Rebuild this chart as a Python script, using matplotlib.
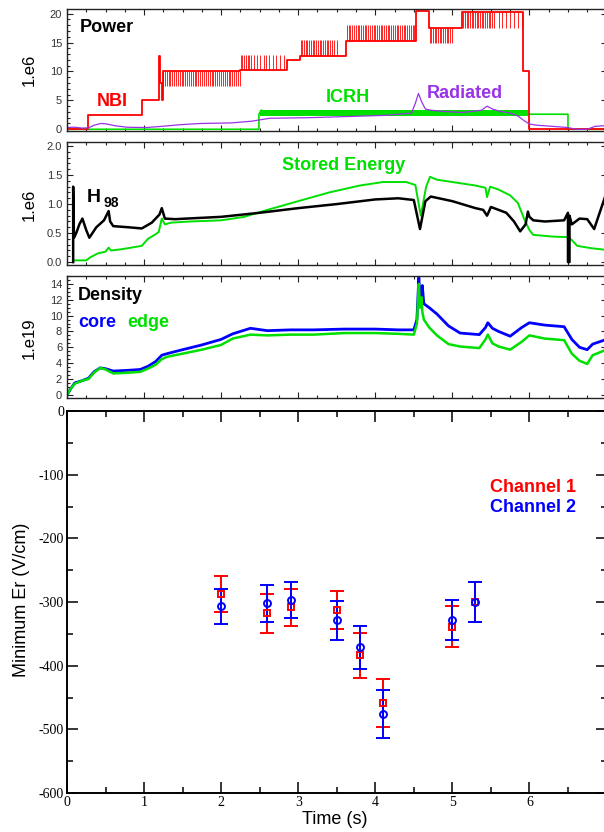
import matplotlib
matplotlib.use("Agg")
import matplotlib.pyplot as plt
from matplotlib.ticker import MultipleLocator

plt.rcParams['axes.unicode_minus'] = False
plt.rcParams['font.family'] = ['Liberation Sans', 'DejaVu Sans']

# ---------------- data ----------------
# NBI power (1e6 W): base step levels
nbi_t = [0.0, 0.277, 0.277, 0.97, 0.97, 1.20, 1.20, 1.205, 1.205, 1.23, 1.23, 1.245,
         1.245, 2.25, 2.25, 2.85, 2.85, 3.02, 3.02, 3.62, 3.62, 4.53, 4.53, 4.70,
         4.70, 5.00, 5.00, 5.13, 5.13, 5.92, 5.92, 5.99, 5.99, 7.0]
nbi_v = [0.0, 0.0, 2.5, 2.5, 5.0, 5.0, 12.7, 12.7, 8.0, 8.0, 5.0, 5.0,
         10.0, 10.0, 10.3, 10.3, 12.0, 12.0, 12.7, 12.7, 15.2, 15.2, 20.5, 20.5,
         17.5, 17.5, 17.6, 17.6, 20.3, 20.3, 10.0, 10.0, 0.0, 0.0]
# NBI modulation spikes (times), each segment with base and extreme level
spk_a_t = [1.250, 1.271, 1.296, 1.318, 1.341, 1.366, 1.392, 1.414, 1.438, 1.463, 1.488,
           1.510, 1.534, 1.560, 1.583, 1.607, 1.633, 1.656, 1.680, 1.705, 1.730, 1.754,
           1.779, 1.803, 1.827, 1.852, 1.876, 1.900, 1.925, 1.950, 1.974, 1.998, 2.023,
           2.048, 2.072, 2.096, 2.121, 2.146, 2.170, 2.195, 2.220, 2.244]
spk_b_t = [2.255, 2.276, 2.297, 2.320, 2.343, 2.366, 2.390, 2.42, 2.46, 2.51, 2.55, 2.58,
           2.62, 2.67, 2.715, 2.76, 2.81]
spk_d_t = [3.030, 3.052, 3.075, 3.097, 3.120, 3.143, 3.165, 3.188, 3.211, 3.233, 3.256,
           3.279, 3.302, 3.324, 3.347, 3.370, 3.392, 3.415, 3.438, 3.47, 3.50]
spk_e_t = [3.632, 3.655, 3.678, 3.701, 3.724, 3.747, 3.770, 3.793, 3.816, 3.839, 3.862,
           3.885, 3.908, 3.931, 3.954, 3.977, 4.000, 4.023, 4.046, 4.069, 4.092, 4.115,
           4.138, 4.161, 4.184, 4.207, 4.230, 4.253, 4.276, 4.299, 4.322, 4.345, 4.368,
           4.391, 4.414, 4.437, 4.460, 4.483, 4.506]
spk_g_t = [4.705, 4.727, 4.749, 4.771, 4.793, 4.815, 4.837, 4.859, 4.881, 4.903, 4.925,
           4.947, 4.969, 4.991]
spk_i_t = [5.140, 5.162, 5.184, 5.206, 5.228, 5.250, 5.272, 5.294, 5.316, 5.338, 5.360,
           5.382, 5.404, 5.426, 5.448, 5.470, 5.492, 5.514, 5.536, 5.60, 5.65, 5.70, 5.75,
           5.80, 5.85, 5.90]
spk_levels = [(spk_a_t, 10.0, 7.4), (spk_b_t, 10.3, 12.8), (spk_d_t, 12.7, 15.5),
              (spk_e_t, 15.2, 18.0), (spk_g_t, 17.5, 15.0), (spk_i_t, 20.3, 17.5)]

# ICRH power
icrh_t = [0.0, 2.49, 2.49, 2.52, 2.6, 3.0, 3.5, 4.0, 4.5, 5.0, 5.5, 5.9, 5.98, 5.98, 6.5, 6.5, 7.0]
icrh_v = [0.0, 0.0, 2.6, 3.3, 2.9, 2.8, 2.8, 2.8, 2.8, 2.8, 2.8, 2.8, 2.8, 2.6, 2.6, 0.0, 0.0]
icrh_band_t = [2.5, 5.98]
icrh_band_lo = [2.35, 2.35]
icrh_band_hi = [3.25, 3.25]

# Radiated power
rad_t = [0.0, 0.1, 0.2, 0.28, 0.35, 0.44, 0.5, 0.63, 0.78, 1.03, 1.23, 1.48, 1.73, 2.13,
         2.4, 2.49, 2.63, 3.13, 3.63, 4.12, 4.47, 4.52, 4.56, 4.60, 4.65, 4.72, 4.87,
         5.13, 5.38, 5.45, 5.52, 5.62, 5.75, 5.85, 5.93, 6.0, 6.1, 6.25, 6.5, 6.6,
         6.75, 6.85, 6.95, 7.0]
rad_v = [0.3, 0.35, 0.2, 0.25, 0.7, 1.0, 0.95, 0.6, 0.35, 0.3, 0.5, 0.8, 1.0, 1.1,
         1.4, 1.6, 1.9, 2.0, 2.2, 2.4, 2.8, 4.5, 6.2, 4.8, 3.5, 3.3, 3.1,
         2.9, 3.3, 4.0, 3.5, 3.1, 2.8, 2.3, 1.5, 0.9, 0.7, 0.55, 0.3, 0.0,
         0.0, 0.5, 0.6, 0.6]

# Stored energy (1e6 J)
se_t = [0.08, 0.25, 0.3, 0.4, 0.5, 0.54, 0.57, 0.7, 0.97, 1.05, 1.15, 1.19, 1.23, 1.27,
        1.35, 1.6, 2.0, 2.3, 2.6, 3.0, 3.4, 3.8, 4.1, 4.4, 4.52, 4.59, 4.66, 4.71, 4.8,
        5.0, 5.3, 5.43, 5.45, 5.49, 5.6, 5.75, 5.85, 5.93, 6.0, 6.05, 6.3, 6.5, 6.55,
        6.62, 6.8, 7.0]
se_v = [0.03, 0.03, 0.08, 0.15, 0.18, 0.25, 0.2, 0.22, 0.28, 0.4, 0.48, 0.52, 0.75, 0.65,
        0.68, 0.7, 0.72, 0.78, 0.9, 1.05, 1.2, 1.32, 1.38, 1.38, 1.33, 0.8, 1.3, 1.47, 1.42,
        1.38, 1.32, 1.28, 1.12, 1.3, 1.25, 1.15, 1.02, 0.75, 0.55, 0.47, 0.44, 0.43, 0.38,
        0.28, 0.24, 0.21]

# H98 confinement factor
h_t = [0.08, 0.08, 0.09, 0.12, 0.16, 0.2, 0.25, 0.29, 0.38, 0.48, 0.54, 0.56, 0.6, 0.8,
       0.97, 1.1, 1.2, 1.23, 1.27, 1.4, 1.7, 2.0, 2.5, 3.0, 3.5, 4.0, 4.3, 4.5, 4.58,
       4.65, 4.72, 5.0, 5.3, 5.4, 5.45, 5.5, 5.7, 5.8, 5.88, 5.95, 5.98, 6.0, 6.05, 6.2,
       6.45, 6.5, 6.5, 6.52, 6.52, 6.55, 6.65, 6.75, 6.84, 7.0]
h_v = [0.0, 1.3, 0.42, 0.5, 0.65, 0.75, 0.55, 0.42, 0.6, 0.72, 0.88, 0.7, 0.62, 0.6,
       0.58, 0.68, 0.82, 0.93, 0.75, 0.74, 0.76, 0.78, 0.85, 0.93, 1.0, 1.08, 1.1, 1.07, 0.57,
       1.05, 1.13, 1.05, 0.93, 0.9, 0.8, 0.95, 0.85, 0.7, 0.53, 0.65, 0.87, 0.78, 0.72, 0.7,
       0.72, 0.85, 0.0, 0.0, 0.8, 0.65, 0.75, 0.74, 0.57, 1.2]

# Density (1e19 m^-3)
dens_t = [0, 0.05, 0.1, 0.2, 0.28, 0.35, 0.43, 0.5, 0.6, 0.8, 0.95, 1.05, 1.15, 1.23, 1.3,
          1.5, 1.75, 2.0, 2.15, 2.38, 2.6, 2.9, 3.2, 3.6, 4.0, 4.3, 4.5, 4.54, 4.565, 4.58,
          4.6, 4.61, 4.63, 4.7, 4.8, 4.95, 5.1, 5.35, 5.43, 5.46, 5.52, 5.6, 5.75, 5.9, 6.0,
          6.2, 6.45, 6.55, 6.65, 6.75, 6.82, 7.0]
core_v = [0, 0.8, 1.5, 1.8, 2.1, 2.9, 3.4, 3.3, 3.0, 3.1, 3.2, 3.6, 4.2, 5.0, 5.2,
          5.7, 6.3, 7.0, 7.7, 8.4, 8.1, 8.2, 8.2, 8.3, 8.3, 8.2, 8.2, 9.5, 14.8, 12.0,
          12.2, 13.8, 11.5, 11.0, 10.2, 8.7, 7.8, 7.6, 8.5, 9.1, 8.4, 8.0, 7.4, 8.5, 9.1,
          8.8, 8.6, 7.0, 6.0, 5.7, 6.4, 7.0]
edge_v = [0, 0.8, 1.4, 1.8, 2.0, 2.8, 3.4, 3.2, 2.7, 2.8, 2.9, 3.3, 3.8, 4.5, 4.8,
          5.2, 5.7, 6.3, 7.1, 7.6, 7.5, 7.6, 7.6, 7.8, 7.8, 7.7, 7.6, 9.0, 14.0, 11.0,
          12.3, 10.5, 9.5, 8.5, 7.5, 6.4, 6.1, 5.9, 7.0, 7.6, 6.5, 6.1, 5.7, 6.7, 7.5,
          7.1, 6.9, 5.2, 4.3, 3.9, 5.0, 5.7]

# Minimum Er (V/cm)
er_t = [2.0, 2.6, 2.9, 3.5, 3.8, 4.1, 5.0, 5.3]
ch1_er = [-287, -318, -308, -313, -384, -459, -339, -300]
ch1_err = [28, 30, 29, 30, 35, 38, 32, 31]
ch2_er = [-307, -302, -297, -329, -371, -476, -328, -300]
ch2_err = [28, 29, 28, 30, 34, 38, 31, 31]

time_ticks = [0, 1, 2, 3, 4, 5, 6, 7]
time_labels = ['0', '1', '2', '3', '4', '5', '6', '']

# ---------------- figure ----------------
W, H = 604, 832
fig = plt.figure(figsize=(W / 100, H / 100), dpi=100)

def box(top, bottom, left=67, right=606.5):
    return [left / W, 1 - bottom / H, (right - left) / W, (bottom - top) / H]

def fx(px):
    return px / W

def fy(py):
    return 1 - py / H

RED = '#ff0000'
GREEN = '#00e000'
BLUE = '#0000ff'
PURPLE = '#9933e6'

ax1 = fig.add_axes(box(9, 131))
ax2 = fig.add_axes(box(142, 265))
ax3 = fig.add_axes(box(276, 398))
ax4 = fig.add_axes(box(411, 793))

for ax in (ax1, ax2, ax3):
    ax.set_xlim(0, 7)
    ax.xaxis.set_major_locator(MultipleLocator(1))
    ax.xaxis.set_minor_locator(MultipleLocator(0.25))
    ax.tick_params(which='both', direction='in', top=True, right=True,
                   labelbottom=False, labelsize=8, labelcolor='#333333',
                   color='#222222', width=0.8)
    ax.tick_params(which='major', length=4)
    ax.tick_params(which='minor', length=2)
    for s in ax.spines.values():
        s.set_linewidth(1.0)
        s.set_color('#222222')

# ---- panel 1: power ----
ax1.set_ylim(-0.3, 20.8)
ax1.yaxis.set_major_locator(MultipleLocator(5))
ax1.yaxis.set_minor_locator(MultipleLocator(1))
ax1.fill_between(icrh_band_t, icrh_band_lo, icrh_band_hi, color=GREEN, lw=0)
ax1.plot(icrh_t, icrh_v, color=GREEN, lw=1.2)
for times, base, ext in spk_levels:
    ax1.vlines(times, base, ext, color=RED, lw=0.6)
ax1.plot(nbi_t, nbi_v, color=RED, lw=1.3)
ax1.plot(rad_t, rad_v, color=PURPLE, lw=0.9)

# ---- panel 2: stored energy, H98 ----
ax2.set_ylim(-0.05, 2.07)
ax2.yaxis.set_major_locator(MultipleLocator(0.5))
ax2.yaxis.set_minor_locator(MultipleLocator(0.1))
ax2.yaxis.set_major_formatter(plt.FormatStrFormatter('%.1f'))
ax2.plot(se_t, se_v, color=GREEN, lw=1.4)
ax2.plot(h_t, h_v, color='black', lw=1.8)

# ---- panel 3: density ----
ax3.set_ylim(-0.4, 15)
ax3.yaxis.set_major_locator(MultipleLocator(2))
ax3.yaxis.set_minor_locator(MultipleLocator(0.5))
ax3.plot(dens_t, core_v, color=BLUE, lw=2.0)
ax3.plot(dens_t, edge_v, color=GREEN, lw=1.8)

# ---- panel 4: Er ----
ax4.set_xlim(0, 7)
ax4.set_ylim(-600, 0)
ax4.set_xticks(time_ticks)
ax4.set_xticklabels(time_labels)
ax4.xaxis.set_minor_locator(MultipleLocator(0.5))
ax4.yaxis.set_major_locator(MultipleLocator(100))
ax4.yaxis.set_minor_locator(MultipleLocator(50))
ax4.tick_params(which='both', direction='in', top=True, right=True, width=1.1,
                labelsize=10, pad=2)
ax4.tick_params(which='major', length=8)
ax4.tick_params(which='minor', length=4.3)
for lab in ax4.get_xticklabels() + ax4.get_yticklabels():
    lab.set_family('Liberation Serif')
for s in ax4.spines.values():
    s.set_linewidth(1.4)

ax4.errorbar(er_t, ch1_er, yerr=ch1_err, fmt='s', ms=4.5, mfc='none', mec=RED, mew=1.4,
             ecolor=RED, elinewidth=1.4, capsize=4.8, capthick=1.4)
ax4.errorbar(er_t, ch2_er, yerr=ch2_err, fmt='o', ms=5, mfc='none', mec=BLUE, mew=1.4,
             ecolor=BLUE, elinewidth=1.4, capsize=4.8, capthick=1.4)

# ---- texts ----
fig.text(fx(29), fy(70), '1.e6', rotation=90, ha='center', va='center', fontsize=12)
fig.text(fx(29), fy(205), '1.e6', rotation=90, ha='center', va='center', fontsize=12)
fig.text(fx(29), fy(338), '1.e19', rotation=90, ha='center', va='center', fontsize=12)
fig.text(fx(22), fy(600), 'Minimum Er (V/cm)', rotation=90, ha='center', va='center',
         fontsize=13)
fig.text(fx(335), fy(819), 'Time (s)', ha='center', va='center', fontsize=13)

bold = dict(fontweight='bold', fontsize=13, va='center', ha='left')
fig.text(fx(80), fy(27), 'Power', color='black', **bold)
fig.text(fx(97), fy(101), 'NBI', color=RED, **bold)
fig.text(fx(326), fy(97), 'ICRH', color=GREEN, **bold)
fig.text(fx(427), fy(94), 'Radiated', color=PURPLE, **bold)
fig.text(fx(282), fy(165), 'Stored Energy', color=GREEN, **bold)
fig.text(fx(87), fy(197), 'H', color='black', fontweight='bold', fontsize=14,
         va='center', ha='left')
fig.text(fx(103), fy(203), '98', color='black', fontweight='bold', fontsize=10,
         va='center', ha='left')
fig.text(fx(78), fy(296), 'Density', color='black', **bold)
fig.text(fx(78), fy(322), 'core', color=BLUE, **bold)
fig.text(fx(127), fy(322), 'edge', color=GREEN, **bold)
fig.text(fx(576), fy(488), 'Channel 1', color=RED, fontweight='bold', fontsize=13,
         va='center', ha='right')
fig.text(fx(576), fy(507), 'Channel 2', color=BLUE, fontweight='bold', fontsize=13,
         va='center', ha='right')

fig.savefig('out.png', dpi=100)
